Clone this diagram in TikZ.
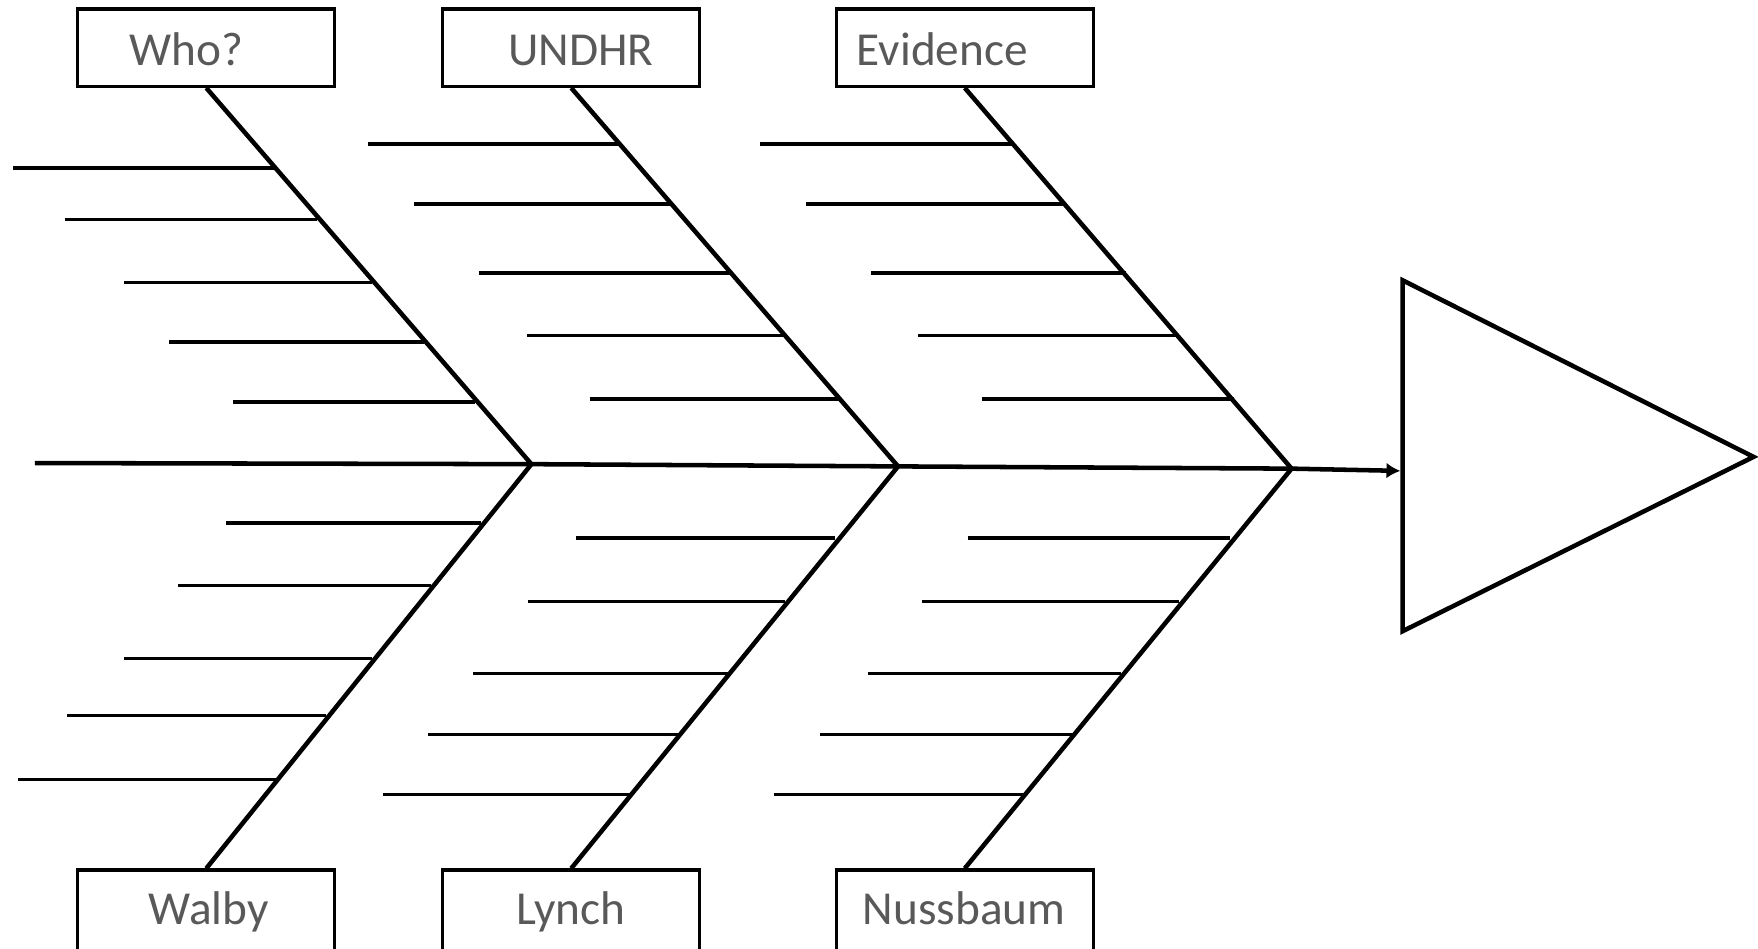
\documentclass[tikz,border=0pt]{standalone}
\usepackage{fontspec}
\setmainfont{Carlito}
\usepackage{tikz}
\usetikzlibrary{arrows.meta,positioning}
\definecolor{labelgray}{RGB}{89,89,89}

\begin{document}
\begin{tikzpicture}[x=0.01cm,y=-0.01cm,>={Latex[length=3.5pt,width=4pt]},
  box/.style={draw,line width=0.8pt,minimum width=2.29cm,minimum height=0.69cm,inner sep=0pt},
  lbl/.style={anchor=base,inner sep=0pt,text=labelgray,font=\fontsize{12}{14}\selectfont},
  bone/.style={line width=1.15pt},
  rib/.style={line width=0.85pt}]
  \useasboundingbox (0,0) rectangle (1568,846);
  % cause boxes
  \node[box] (who) at (184,42.5) {};
  \node[box] (undhr) at (509.5,42.5) {};
  \node[box] (evid) at (860.5,42.5) {};
  \node[box,minimum height=0.8cm] (walby) at (184,816) {};
  \node[box,minimum height=0.8cm] (lynch) at (509.5,816) {};
  \node[box,minimum height=0.8cm] (nuss) at (860.5,816) {};
  \node[lbl] (who-t) at (166.5,58) {Who?};
  \node[lbl] (undhr-t) at (518,58) {UNDHR};
  \node[lbl] (evid-t) at (840.5,58) {Evidence};
  \node[lbl] (walby-t) at (186,825) {Walby};
  \node[lbl] (lynch-t) at (509,825) {Lynch};
  \node[lbl] (nuss-t) at (860,825) {Nussbaum};
  % spine and head
  \coordinate (tail) at (31,413);
  \coordinate (J1) at (474,414);
  \coordinate (J2) at (801,416);
  \coordinate (J3) at (1152,418);
  \coordinate (head) at (1249,420);
  \coordinate (headT) at (1251,250);
  \coordinate (headB) at (1251,563);
  \coordinate (tip) at (1564,407.5);
  \draw[bone,->] (tail) -- (J1) -- (J2) -- (J3) -- (head);
  \draw[bone] (headT) -- (tip) -- (headB) -- cycle;
  % bones
  \draw[bone] (who.south) -- (J1) -- (walby.north);
  \draw[bone] (undhr.south) -- (J2) -- (lynch.north);
  \draw[bone] (evid.south) -- (J3) -- (nuss.north);
  % ribs
  \draw[rib] (12,150)--(244,150) (58,195.5)--(283,195.5) (111,252)--(332,252)
    (151,305)--(378,305) (208,358.5)--(424,358.5);
  \draw[rib] (328,128.5)--(552,128.5) (369,182)--(599,182) (427,243.5)--(653,243.5)
    (470,299.5)--(701,299.5) (526,356)--(750,356);
  \draw[rib] (678,128.5)--(903,128.5) (719,182)--(950,182) (777,243.5)--(1004,243.5)
    (819,299.5)--(1052,299.5) (876,356)--(1101,356);
  \draw[rib] (202,466.5)--(429,466.5) (159,522.5)--(384,522.5) (111,587.5)--(332,587.5)
    (60,638)--(291,638) (16,695)--(246,695);
  \draw[rib] (514,480)--(745,480) (471,536.5)--(700,536.5) (422,600.5)--(650,600.5)
    (382,655)--(606,655) (342,708.5)--(563,708.5);
  \draw[rib] (863,480)--(1097,480) (822,536.5)--(1052,536.5) (774,600.5)--(1000,600.5)
    (731,655)--(957,655) (690,708.5)--(914,708.5);
\end{tikzpicture}
\end{document}
